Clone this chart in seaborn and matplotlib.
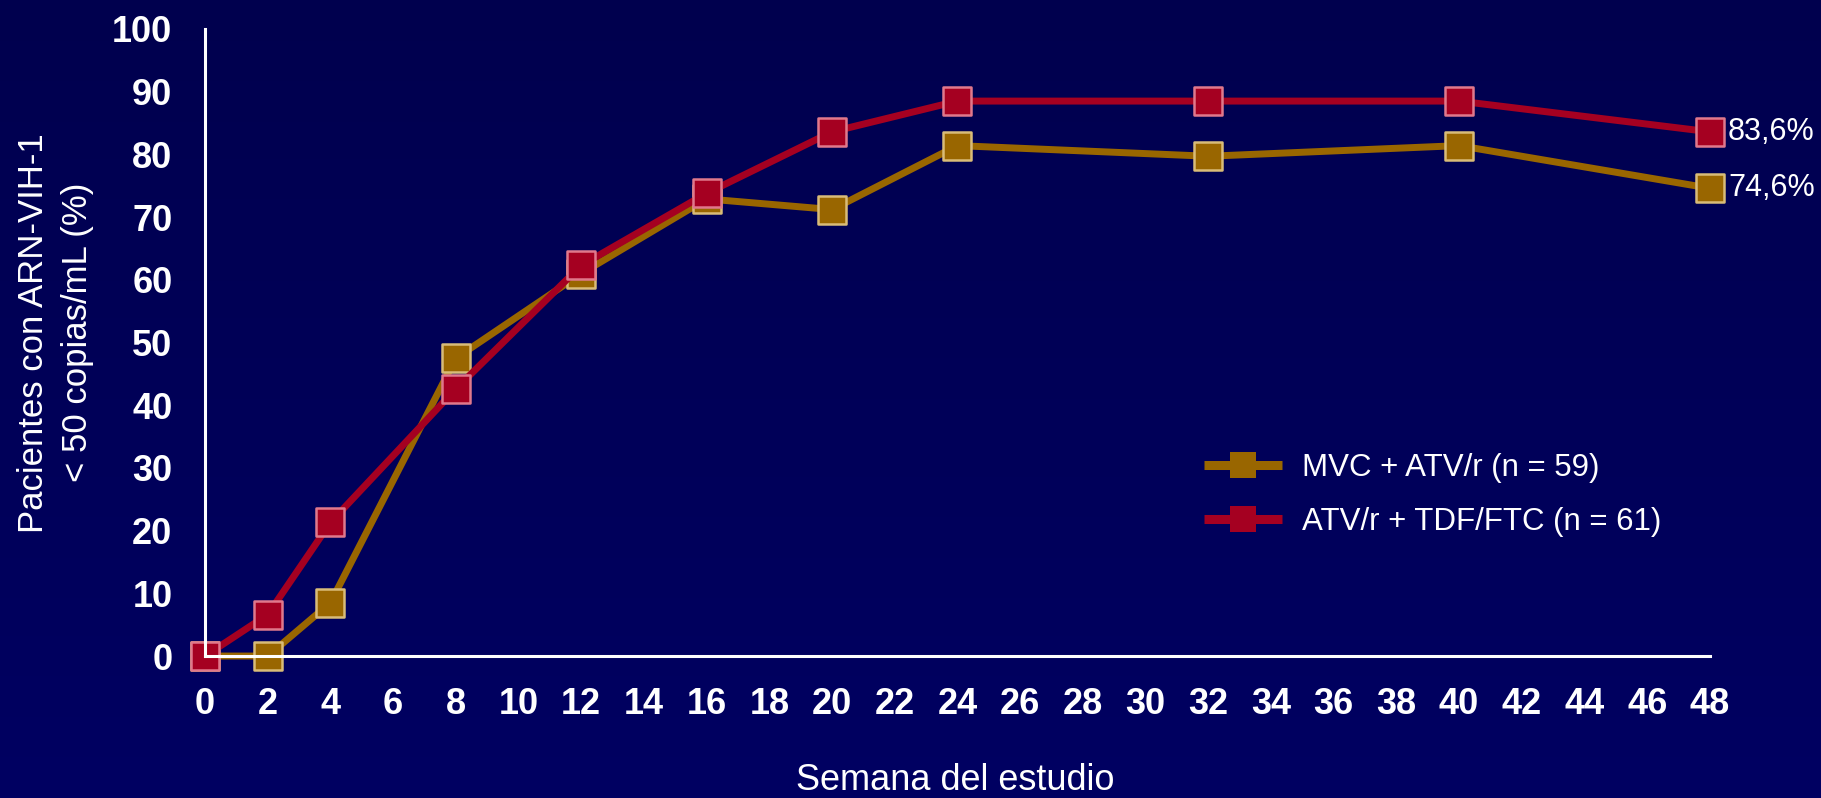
import numpy as np
import pandas as pd
import matplotlib
matplotlib.use("Agg")
import matplotlib.pyplot as plt
from matplotlib.lines import Line2D
from matplotlib.markers import MarkerStyle
import seaborn as sns

# Study weeks and response rates (% of patients with HIV-1 RNA < 50 copies/mL)
semanas = [0, 2, 4, 8, 12, 16, 20, 24, 32, 40, 48]
mvc_atv = [0.0, 0.0, 8.5, 47.5, 61.0, 72.9, 71.2, 81.4, 79.7, 81.4, 74.6]
atv_tdf = [0.0, 6.6, 21.3, 42.6, 62.3, 73.8, 83.6, 88.5, 88.5, 88.5, 83.6]

grupos = ["MVC + ATV/r (n = 59)", "ATV/r + TDF/FTC (n = 61)"]
colores = ["#996600", "#A50021"]
bordes = ["#D9BC78", "#E0788C"]

xticks = list(range(0, 49, 2))
yticks = list(range(0, 101, 10))

df = pd.DataFrame({
    "semana": semanas * 2,
    "pct": mvc_atv + atv_tdf,
    "grupo": [grupos[0]] * len(semanas) + [grupos[1]] * len(semanas),
})

sns.set_theme(style="white")
plt.rcParams["font.family"] = ["Liberation Sans", "DejaVu Sans"]

fig = plt.figure(figsize=(18.21, 7.98), dpi=100)

# dark navy backdrop with a faint vertical gradient
bg = fig.add_axes([0, 0, 1, 1], zorder=-10)
grad = np.linspace(0, 1, 256).reshape(-1, 1)
cmap = matplotlib.colors.LinearSegmentedColormap.from_list("navy", ["#00004E", "#000062"])
bg.imshow(grad, aspect="auto", cmap=cmap, extent=[0, 1, 0, 1], origin="upper")
bg.set_axis_off()

ax = fig.add_axes([0.1126, 0.1779, 0.8264, 0.7858])
ax.patch.set_alpha(0)

cuadro = MarkerStyle("s", joinstyle="round")
sns.lineplot(data=df, x="semana", y="pct", hue="grupo", hue_order=grupos,
             palette=colores, marker=cuadro, markersize=19.5, linewidth=5,
             markeredgewidth=1.8, dashes=False, legend=False, ax=ax,
             clip_on=False)
for line, borde in zip(ax.lines, bordes):
    line.set_markeredgecolor(borde)
    line.set_solid_joinstyle("round")

ax.set_xlim(0, 48)
ax.set_ylim(0, 100)
ax.set_xticks(xticks)
ax.set_yticks(yticks)
ax.set_xticklabels([str(t) for t in xticks], fontsize=26, fontweight="bold", color="white")
ax.set_yticklabels([str(t) for t in yticks], fontsize=26, fontweight="bold", color="white")
ax.tick_params(axis="both", direction="out", length=9.5, width=2.2, color="white")
ax.tick_params(axis="y", pad=14)
ax.tick_params(axis="x", pad=13)
for side in ["top", "right"]:
    ax.spines[side].set_visible(False)
for side in ["left", "bottom"]:
    ax.spines[side].set_color("white")
    ax.spines[side].set_linewidth(2.2)
ax.set_xlabel("")
ax.set_ylabel("")

# final-week values
for serie in (mvc_atv, atv_tdf):
    v = serie[-1]
    ax.annotate(f"{v:.1f}%".replace(".", ","), xy=(semanas[-1], v), xytext=(13, 0),
                textcoords="offset points", ha="left", va="center",
                fontsize=22, color="white", annotation_clip=False)

fig.text(955 / 1821, 1 - 790 / 798, "Semana del estudio", ha="center", va="baseline",
         fontsize=26, color="white")
fig.text(0.0305, 0.583, "Pacientes con ARN-VIH-1\n< 50 copias/mL (%)", rotation=90,
         ha="center", va="center", multialignment="center", linespacing=1.45,
         fontsize=25, color="white")

handles = [Line2D([], [], color=c, linewidth=6.5, marker="s", markersize=18.5,
                  markeredgewidth=0, markerfacecolor=c, solid_capstyle="butt")
           for c in colores]
ax.legend(handles, grupos, loc="center left", bbox_to_anchor=(1204 / 1821, 1 - 495 / 798),
          bbox_transform=fig.transFigure, frameon=False, fontsize=22.5,
          labelcolor="white", handlelength=2.5, handletextpad=0.64,
          labelspacing=0.75, borderpad=0, borderaxespad=0)

fig.savefig("out.png", dpi=100, facecolor="#000058")
